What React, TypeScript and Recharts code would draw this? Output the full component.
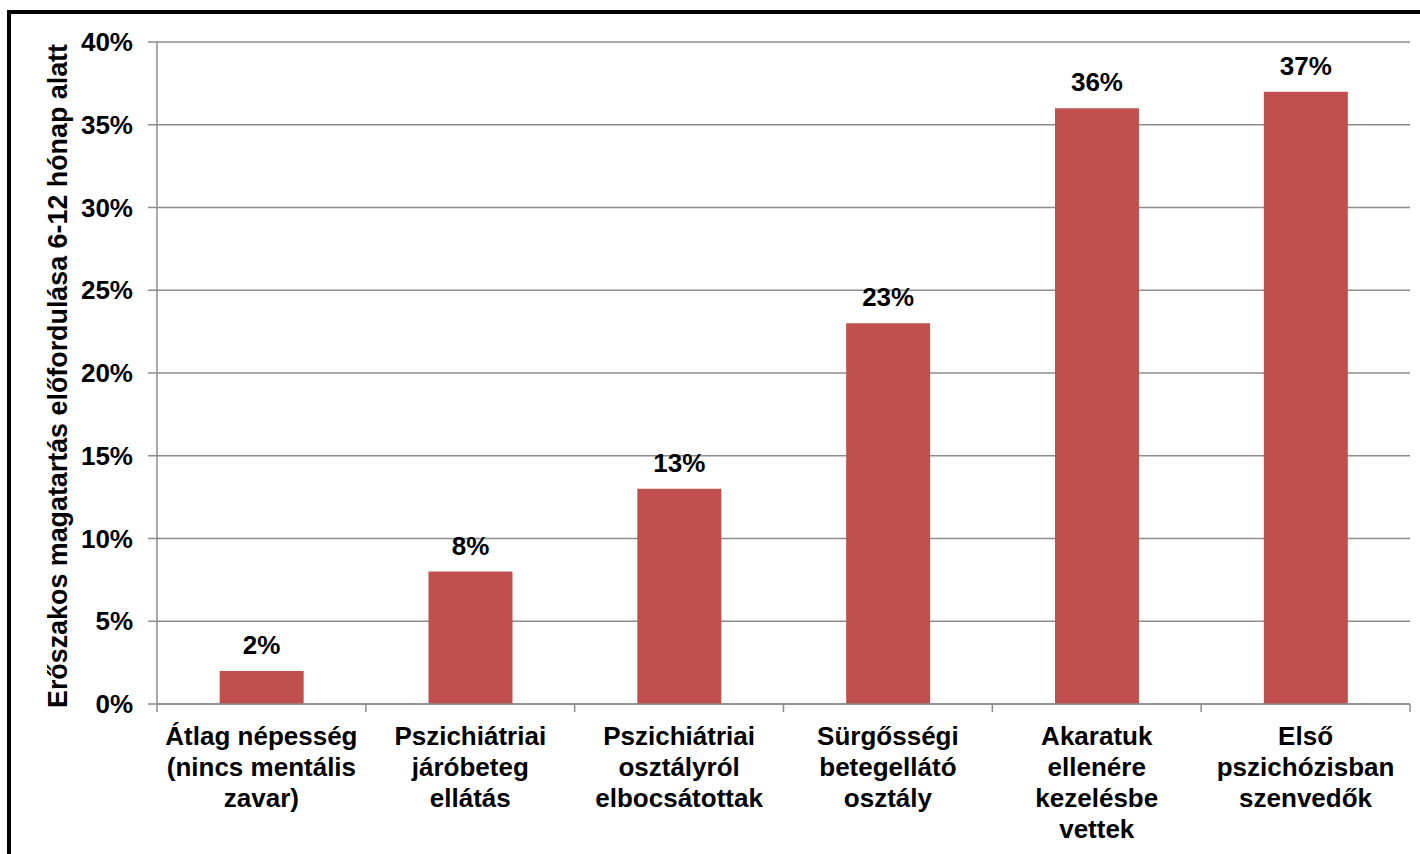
import React from "react";
import { BarChart, Bar, XAxis, YAxis, CartesianGrid, LabelList } from "recharts";

const categories = [
  "Átlag népesség\n(nincs mentális\nzavar)",
  "Pszichiátriai\njáróbeteg\nellátás",
  "Pszichiátriai\nosztályról\nelbocsátottak",
  "Sürgősségi\nbetegellátó\nosztály",
  "Akaratuk\nellenére\nkezelésbe\nvettek",
  "Első\npszichózisban\nszenvedők",
];
const values = [0.02, 0.08, 0.13, 0.23, 0.36, 0.37];
const yTicks = [0, 0.05, 0.1, 0.15, 0.2, 0.25, 0.3, 0.35, 0.4];
const yTitle = "Erőszakos magatartás előfordulása 6-12 hónap alatt";

const data = categories.map((c, i) => ({ name: c, value: values[i] }));

const FONT = '"Liberation Sans", Arial, Helvetica, sans-serif';
const GRID = "#8c8c8c";
const BAR = "#C0504D";
const FS = 26;

const pct = (v: number) => `${Math.round(v * 100)}%`;

const XTick = (props: any) => {
  const { x, y, payload, index, width } = props;
  const band = width / data.length;
  const lines = String(payload.value).split("\n");
  return (
    <g>
      <line x1={x - band / 2} x2={x - band / 2} y1={y - 8} y2={y} stroke={GRID} strokeWidth={1.5} />
      {index === data.length - 1 && (
        <line x1={x + band / 2} x2={x + band / 2} y1={y - 8} y2={y} stroke={GRID} strokeWidth={1.5} />
      )}
      <text x={x} y={y} textAnchor="middle" fontFamily={FONT} fontWeight="bold" fontSize={FS} fill="#000">
        {lines.map((l, i) => (
          <tspan key={i} x={x} dy={i === 0 ? 33 : 31}>
            {l}
          </tspan>
        ))}
      </text>
    </g>
  );
};

const YTitle = (props: any) => {
  const { viewBox } = props;
  const cy = viewBox.y + viewBox.height / 2 + 3;
  const cx = viewBox.x + 58;
  return (
    <text
      x={cx}
      y={cy}
      transform={`rotate(-90 ${cx} ${cy})`}
      textAnchor="middle"
      dominantBaseline="central"
      fontFamily={FONT}
      fontWeight="bold"
      fontSize={27}
      textLength={664}
      lengthAdjust="spacingAndGlyphs"
      fill="#000"
    >
      {yTitle}
    </text>
  );
};

export default function App() {
  return (
    <div style={{ position: "fixed", left: 0, top: 0, width: 1420, height: 854, overflow: "hidden", background: "#fff" }}>
      <div
        style={{
          position: "absolute",
          left: 7,
          top: 10,
          width: 1600,
          height: 1200,
          borderTop: "4px solid #000",
          borderLeft: "4px solid #000",
        }}
      />
      <div style={{ position: "absolute", left: 0, top: 0 }}>
        <BarChart
          width={1420}
          height={854}
          data={data}
          margin={{ top: 42, right: 10, bottom: 0, left: 0 }}
          barCategoryGap="30%"
        >
          <CartesianGrid vertical={false} stroke={GRID} strokeWidth={1.5} />
          <XAxis
            dataKey="name"
            height={150}
            interval={0}
            tickLine={false}
            stroke={GRID}
            strokeWidth={1.5}
            tick={<XTick />}
          />
          <YAxis
            width={157}
            domain={[0, 0.4]}
            ticks={yTicks}
            tickFormatter={pct}
            tickSize={9}
            tickMargin={15}
            stroke={GRID}
            strokeWidth={1.5}
            tick={{ fill: "#000", fontFamily: FONT, fontWeight: "bold", fontSize: FS }}
            label={<YTitle />}
          />
          <Bar dataKey="value" fill={BAR} isAnimationActive={false}>
            <LabelList
              dataKey="value"
              position="top"
              offset={17}
              formatter={(v: any) => pct(Number(v))}
              style={{ fill: "#000", fontFamily: FONT, fontWeight: "bold", fontSize: FS }}
            />
          </Bar>
        </BarChart>
      </div>
    </div>
  );
}
